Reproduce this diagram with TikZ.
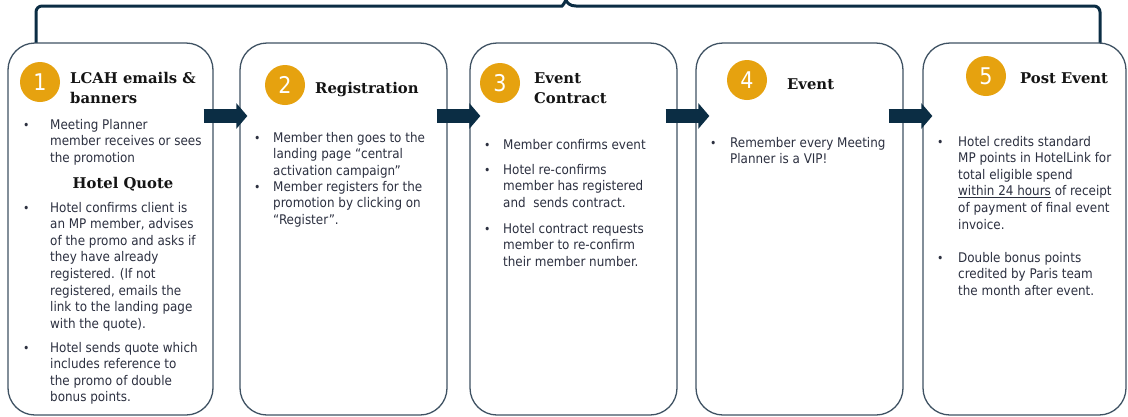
\documentclass[tikz,border=0pt]{standalone}
\usepackage{fontspec}
\IfFontExistsTF{DejaVu Sans Condensed}{\newfontfamily\bodyf{DejaVu Sans Condensed}}{\newfontfamily\bodyf[FakeStretch=0.9]{DejaVu Sans}}
\newfontfamily\titlef{DejaVu Serif}
\usetikzlibrary{arrows.meta}
\definecolor{navy}{HTML}{0B2D44}
\definecolor{boxc}{HTML}{3F5263}
\definecolor{gold}{HTML}{E6A20F}
\definecolor{bodyc}{HTML}{2C3040}
\definecolor{titlec}{HTML}{141414}
\newcommand\txtlines[1]{\begin{tabular}[t]{@{}l@{}}#1\end{tabular}}
\tikzset{
  stagebox/.style={draw=boxc, line width=1.3pt, fill=white, rounded corners=27pt, inner sep=0pt, minimum height=372pt},
  num/.style={circle, fill=gold, minimum size=40pt, inner sep=0pt, text=white, font=\bodyf\fontsize{23}{23}\selectfont},
  ttl/.style={anchor=base west, inner sep=0pt, font=\titlef\bfseries\fontsize{14.8}{20}\selectfont, text=titlec},
  body/.style={anchor=base west, inner sep=0pt, font=\bodyf\fontsize{13.3}{16.6}\selectfont, text=bodyc},
  bul/.style={anchor=base west, inner sep=0pt, font=\bodyf\fontsize{12}{12}\selectfont, text=bodyc},
  flow/.style={line width=14pt, draw=navy, -{Triangle[length=11pt, width=25pt]}},
  brace/.style={line width=3pt, draw=navy}
}
\begin{document}
\begin{tikzpicture}[x=1pt, y=-1pt]
\useasboundingbox (0,0) rectangle (1128,416);
\fill[white] (0,0) rectangle (1128,416);

% bracket
\draw[brace] (36,47) [rounded corners=6pt] -- (36,6) -- (556,6) [sharp corners]
  .. controls (562,6) and (565,3) .. (566,0)
  .. controls (567,3) and (570,6) .. (576,6) [rounded corners=6pt] -- (1100,6) -- (1100,47);

% boxes
\node[stagebox, minimum width=205pt] (b1) at (110.5,229) {};
\node[stagebox, minimum width=207pt] (b2) at (343.5,229) {};
\node[stagebox, minimum width=207pt] (b3) at (573.5,229) {};
\node[stagebox, minimum width=207pt] (b4) at (799.5,229) {};
\node[stagebox, minimum width=203pt] (b5) at (1024.5,229) {};

% arrows
\coordinate (ya) at (0,116);
\draw[flow] ([xshift=-10pt]b1.east |- ya) -- ([xshift=8pt]b2.west |- ya);
\draw[flow] ([xshift=-11pt]b2.east |- ya) -- ([xshift=11pt]b3.west |- ya);
\draw[flow] ([xshift=-12pt]b3.east |- ya) -- ([xshift=14pt]b4.west |- ya);
\draw[flow] ([xshift=-15pt]b4.east |- ya) -- ([xshift=10pt]b5.west |- ya);

% numbers
\node[num] (n1) at (40,82) {1};
\node[num] (n2) at (285,85) {2};
\node[num] (n3) at (500,83) {3};
\node[num] (n4) at (747,80) {4};
\node[num] (n5) at (986,76) {5};

% titles
\node[ttl] (t1) at (70,83) {\txtlines{LCAH emails \&\\banners}};
\node[ttl] (t2) at (315,93) {Registration};
\node[ttl] (t3) at (534,83) {\txtlines{Event\\Contract}};
\node[ttl] (t4) at (787,89) {Event};
\node[ttl] (t5) at (1020,83) {Post Event};
\node[ttl, anchor=base] (t1b) at (123,188) {Hotel Quote};

% box 1 text
\node[bul] (p11) at (23,129) {•};
\node[body] (x11) at (50,129) {\txtlines{Meeting Planner\\member receives or sees\\the promotion}};
\node[bul] (p12) at (23,212) {•};
\node[body] (x12) at (50,212) {\txtlines{Hotel confirms client is\\an MP member, advises\\of the promo and asks if\\they have already\\registered. (If not\\registered, emails the\\link to the landing page\\with the quote).}};
\node[bul] (p13) at (23,352) {•};
\node[body] (x13) at (50,352) {\txtlines{Hotel sends quote which\\includes reference to\\the promo of double\\bonus points.}};

% box 2 text
\node[bul] (p21) at (254,142) {•};
\node[body] (x21) at (273,142) {\txtlines{Member then goes to the\\landing page “central\\activation campaign”}};
\node[bul] (p22) at (254,191) {•};
\node[body] (x22) at (273,191) {\txtlines{Member registers for the\\promotion by clicking on\\“Register”.}};

% box 3 text
\node[bul] (p31) at (484,149) {•};
\node[body] (x31) at (503,149) {Member confirms event};
\node[bul] (p32) at (484,174) {•};
\node[body] (x32) at (503,174) {\txtlines{Hotel re-confirms\\member has registered\\and\ \ sends contract.}};
\node[bul] (p33) at (484,233) {•};
\node[body] (x33) at (503,233) {\txtlines{Hotel contract requests\\member to re-confirm\\their member number.}};

% box 4 text
\node[bul] (p41) at (710,147) {•};
\node[body] (x41) at (730,147) {\txtlines{Remember every Meeting\\Planner is a VIP!}};

% box 5 text
\node[bul] (p51) at (937,146) {•};
\node[body] (x51) at (958,146) {\txtlines{Hotel credits standard\\MP points in HotelLink for\\total eligible spend\\\underline{within 24 hours} of receipt\\of payment of final event\\invoice.}};
\node[bul] (p52) at (937,262) {•};
\node[body] (x52) at (958,262) {\txtlines{Double bonus points\\credited by Paris team\\the month after event.}};
\end{tikzpicture}
\end{document}
